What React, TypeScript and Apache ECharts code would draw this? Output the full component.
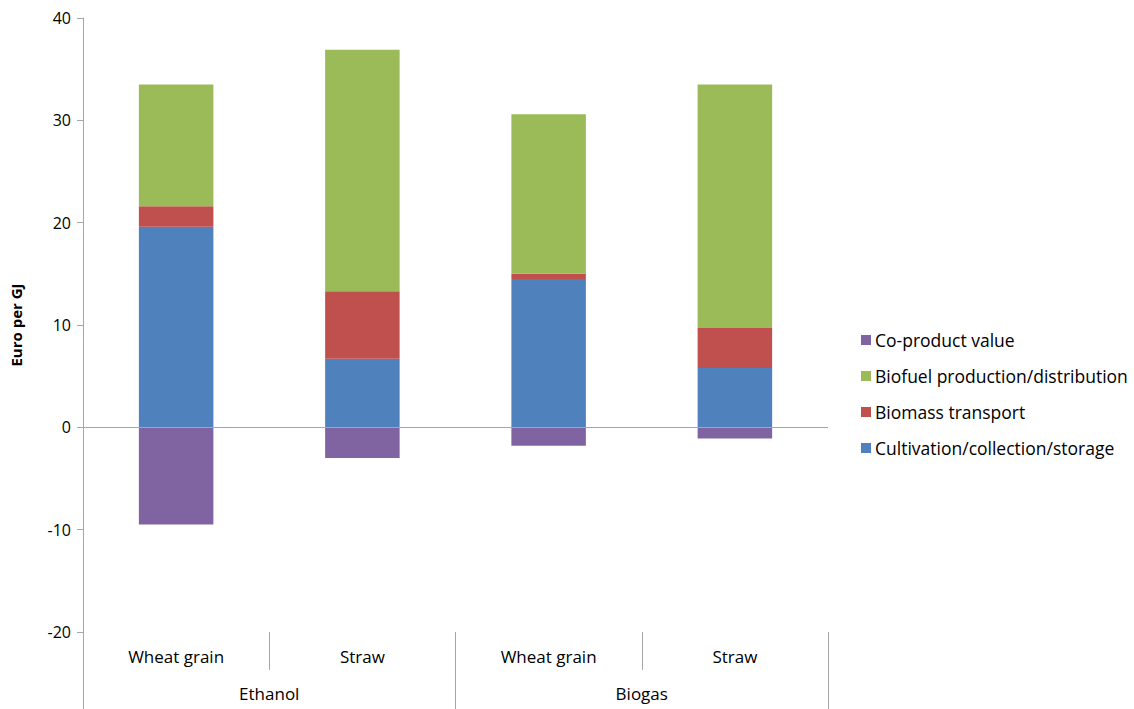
import React, { useEffect, useRef } from "react";
import * as echarts from "echarts";

const categories = ["Wheat grain", "Straw", "Wheat grain", "Straw"];
const groups = ["Ethanol", "Biogas"];
const cultivation = [19.6, 6.7, 14.5, 5.8];
const transport = [2.0, 6.6, 0.5, 3.9];
const production = [11.9, 23.6, 15.6, 23.8];
const coProduct = [-9.5, -3.0, -1.8, -1.1];
const legendOrder = [
  "Co-product value",
  "Biofuel production/distribution",
  "Biomass transport",
  "Cultivation/collection/storage",
];

const FONT = "'Open Sans', 'Noto Sans', sans-serif";
const AXIS_COLOR = "#A6A6A6";

export default function App() {
  const ref = useRef<HTMLDivElement>(null);
  useEffect(() => {
    if (!ref.current) return;
    const chart = echarts.init(ref.current, undefined, { renderer: "svg" });
    const barCommon = { type: "bar", stack: "total", barWidth: "40%", xAxisIndex: 0 };
    chart.setOption({
      animation: false,
      textStyle: { fontFamily: FONT },
      grid: { left: 80, right: 306, top: 18, bottom: 77, containLabel: false },
      legend: {
        orient: "vertical",
        left: 856,
        top: 325,
        itemWidth: 10,
        itemHeight: 10,
        itemGap: 16,
        icon: "rect",
        data: legendOrder,
        textStyle: { fontSize: 17.5, color: "#000", fontFamily: FONT, lineHeight: 20, padding: [0, 0, 0, -1] },
      },
      xAxis: [
        {
          type: "category",
          data: categories,
          position: "bottom",
          axisLine: { show: false, onZero: false },
          axisTick: { show: true, length: 38, lineStyle: { color: AXIS_COLOR } },
          axisLabel: { fontSize: 17, color: "#000", margin: 16, fontFamily: FONT },
        },
        {
          type: "category",
          data: groups,
          position: "bottom",
          axisLine: { show: false, onZero: false },
          axisTick: { show: true, length: 77, lineStyle: { color: AXIS_COLOR } },
          axisLabel: { fontSize: 17, color: "#000", margin: 53, fontFamily: FONT },
        },
      ],
      yAxis: {
        type: "value",
        min: -20,
        max: 40,
        interval: 10,
        name: "Euro per GJ",
        nameLocation: "middle",
        nameGap: 60,
        nameTextStyle: { fontSize: 15, fontWeight: "bold", color: "#000", fontFamily: FONT },
        axisLine: { show: true, lineStyle: { color: AXIS_COLOR } },
        axisTick: { show: true, length: 6, lineStyle: { color: AXIS_COLOR } },
        splitLine: { show: false },
        axisLabel: { fontSize: 16, color: "#000", margin: 12, fontFamily: FONT },
      },
      series: [
        {
          ...barCommon,
          name: "Cultivation/collection/storage",
          data: cultivation,
          itemStyle: { color: "#4F81BD" },
          markLine: {
            silent: true,
            symbol: "none",
            label: { show: false },
            lineStyle: { color: AXIS_COLOR, type: "solid", width: 1 },
            data: [{ yAxis: 0 }],
          },
        },
        { ...barCommon, name: "Biomass transport", data: transport, itemStyle: { color: "#C0504D" } },
        { ...barCommon, name: "Biofuel production/distribution", data: production, itemStyle: { color: "#9BBB59" } },
        { ...barCommon, name: "Co-product value", data: coProduct, itemStyle: { color: "#8064A2" } },
      ],
    });
    return () => chart.dispose();
  }, []);
  return (
    <div
      ref={ref}
      style={{ position: "absolute", left: 0, top: 0, width: 1134, height: 709 }}
    />
  );
}
